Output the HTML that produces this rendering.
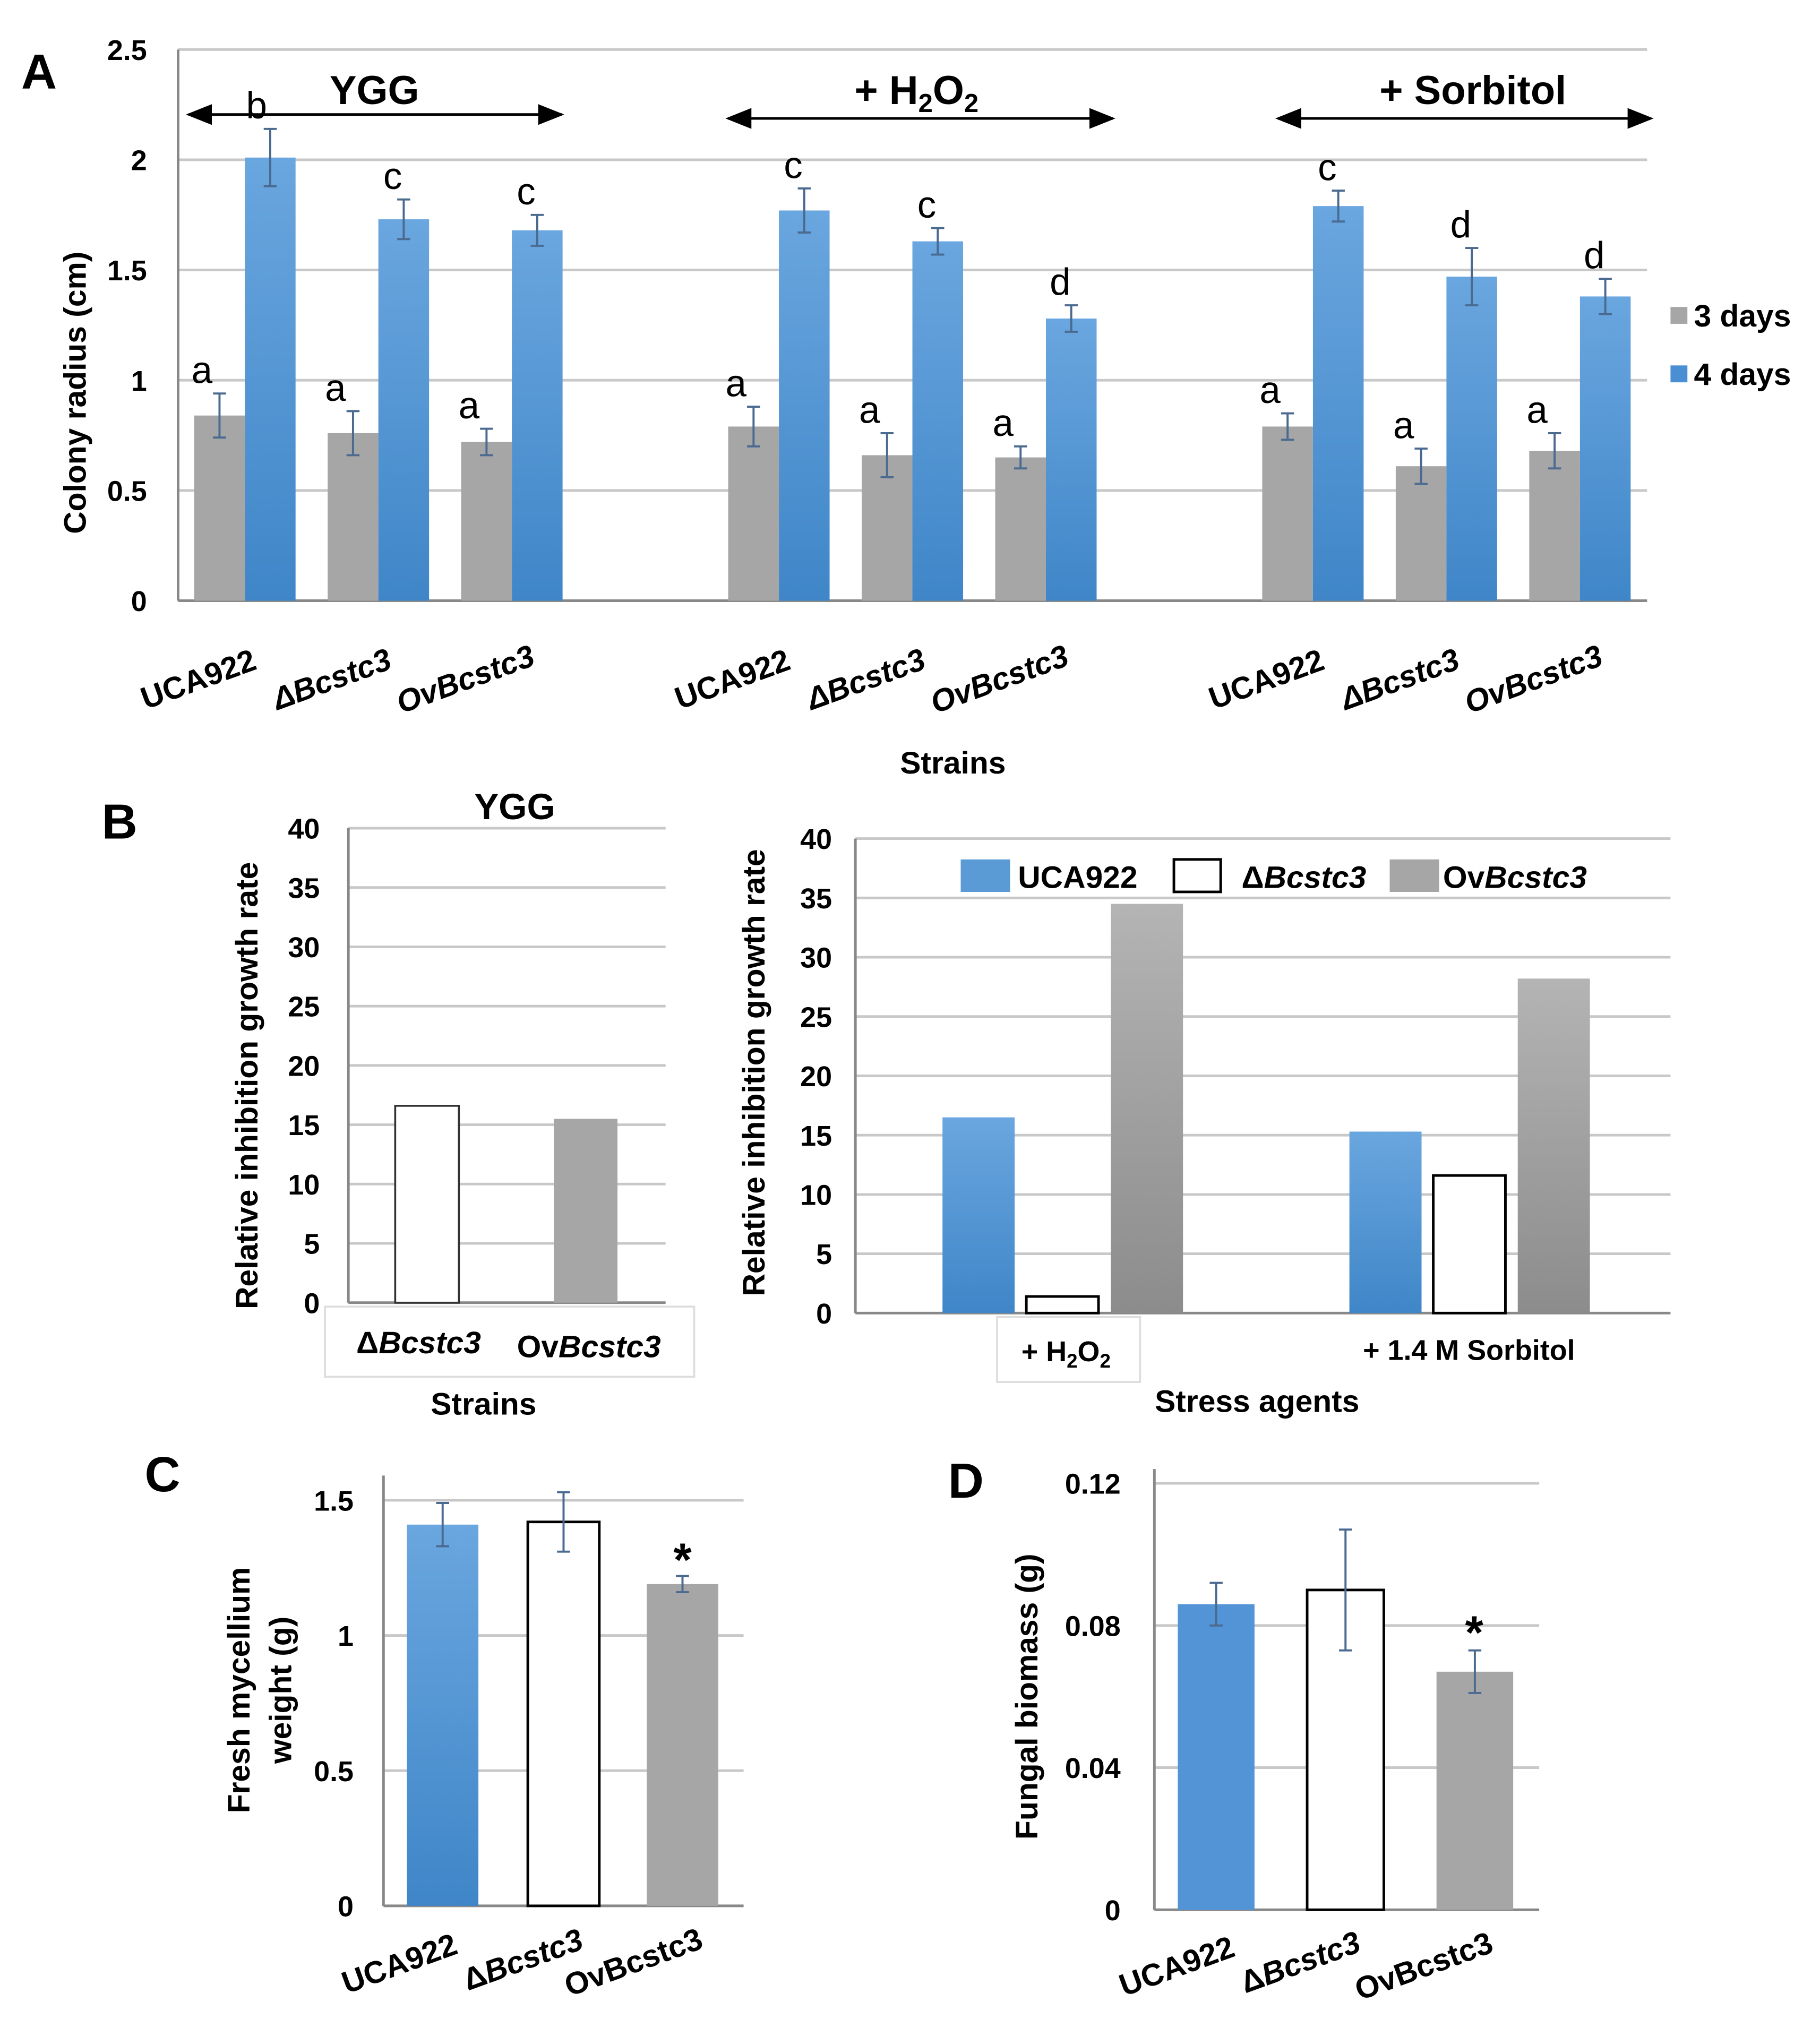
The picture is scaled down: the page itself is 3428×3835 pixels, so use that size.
<!DOCTYPE html>
<html><head><meta charset="utf-8"><style>
html,body{margin:0;padding:0;background:#fff}
svg{display:block}
text{font-family:"Liberation Sans",Arial,sans-serif;font-weight:bold;fill:#000}
</style></head><body>
<svg id="s" width="3428" height="3835" viewBox="0 0 1400 1566" xmlns="http://www.w3.org/2000/svg">
<defs>
<linearGradient id="gb" x1="0" y1="0" x2="0" y2="1"><stop offset="0" stop-color="#6aa6df"/><stop offset="1" stop-color="#3f86c8"/></linearGradient>
<linearGradient id="gg" x1="0" y1="0" x2="0" y2="1"><stop offset="0" stop-color="#b4b4b4"/><stop offset="1" stop-color="#8c8c8c"/></linearGradient>
<marker id="ah" markerWidth="10" markerHeight="10" refX="9" refY="5" orient="auto-start-reverse"><path d="M0,1 L10,5 L0,9 z" fill="#000"/></marker>
</defs>
<g id="root"></g>
</svg>
<script>
// Panel A data
const aGroups=["YGG","+ H2O2","+ Sorbitol"];
const aStrains=["UCA922","ΔBcstc3","OvBcstc3"];
const aDay3=[0.84,0.76,0.72,0.79,0.66,0.65,0.79,0.61,0.68];
const aDay3Err=[0.1,0.1,0.06,0.09,0.1,0.05,0.06,0.08,0.08];
const aDay4=[2.01,1.73,1.68,1.77,1.63,1.28,1.79,1.47,1.38];
const aDay4Err=[0.13,0.09,0.07,0.1,0.06,0.06,0.07,0.13,0.08];
const aDay3Letters=["a","a","a","a","a","a","a","a","a"];
const aDay4Letters=["b","c","c","c","c","d","c","d","d"];
const aTicks=["0","0.5","1","1.5","2","2.5"];
// Panel B left
const bLeftCats=["ΔBcstc3","OvBcstc3"];
const bLeftVals=[16.6,15.5];
const bTicks=["0","5","10","15","20","25","30","35","40"];
// Panel B right
const bRightCats=["+ H2O2","+ 1.4 M Sorbitol"];
const bRightUCA=[16.5,15.3];
const bRightDel=[1.4,11.6];
const bRightOv=[34.5,28.2];
// Panel C
const cVals=[1.41,1.42,1.19];
const cErr=[0.08,0.11,0.03];
const cTicks=["0","0.5","1","1.5"];
// Panel D
const dVals=[0.086,0.090,0.067];
const dErr=[0.006,0.017,0.006];
const dTicks=["0","0.04","0.08","0.12"];

const NS="http://www.w3.org/2000/svg";
const root=document.getElementById('root');
function el(tag,attrs,parent){const e=document.createElementNS(NS,tag);for(const k in attrs)e.setAttribute(k,attrs[k]);(parent||root).appendChild(e);return e;}
function txt(x,y,s,size,anchor,rot){const t=el('text',{x:x,y:y,'font-size':size,'text-anchor':anchor||'middle'});if(rot!==undefined)t.setAttribute('transform','rotate('+rot+' '+x+' '+y+')');t.textContent=s;return t;}
function errbar(x,y1,y2){el('path',{d:`M${x},${y1}V${y2}M${x-5},${y1}H${x+5}M${x-5},${y2}H${x+5}`,stroke:'#4a6a90','stroke-width':1.6,fill:'none'});}

// ---------- Panel A ----------
{
const y0=462,yTop=38,vmax=2.5;const ys=v=>y0-(v/vmax)*(y0-yTop);
const x0=137,x1=1267,slot=102.7;
aTicks.forEach((t,i)=>{const v=parseFloat(t);const y=ys(v);
 if(v>0){const g=el('line',{x1:x0,x2:x1,y1:y,y2:y,stroke:'#c8c8c8','stroke-width':2});}
 const l=txt(113,y+8,t,22,'end');});
el('line',{x1:x0,x2:x0,y1:yTop,y2:y0,stroke:'#888','stroke-width':2});
el('line',{x1:x0,x2:x1,y1:y0,y2:y0,stroke:'#888','stroke-width':2});
aDay3.forEach((v,i)=>{const g=Math.floor(i/3);const s=g*4+(i%3);const cx=x0+(s+0.5)*slot;
 const r=el('rect',{x:cx-39,y:ys(v),width:39,height:y0-ys(v),fill:'#a6a6a6'});
 
 errbar(cx-19.5,ys(v+aDay3Err[i]),ys(v-aDay3Err[i]));
 txt(cx-33,ys(v+aDay3Err[i])-8,aDay3Letters[i],29,'middle').setAttribute('style','font-weight:normal');
 const v4=aDay4[i];
 const b=el('rect',{x:cx,y:ys(v4),width:39,height:y0-ys(v4),fill:'url(#gb)'});
 
 errbar(cx+19.5,ys(v4+aDay4Err[i]),ys(v4-aDay4Err[i]));
 txt(cx+(i==0?9:11),ys(v4+aDay4Err[i])-8,aDay4Letters[i],29,'middle').setAttribute('style','font-weight:normal');
 const lb=txt(cx-33,530,aStrains[i%3],24,'middle',-20);
 lb.setAttribute('font-style',i%3?'italic':'normal');
});
const arr=[[145,432,88],[560,856,91],[983,1270,91]];
arr.forEach(a=>{el('line',{x1:a[0],x2:a[1],y1:a[2],y2:a[2],stroke:'#000','stroke-width':2,'marker-start':'url(#ah)','marker-end':'url(#ah)'});});
txt(288,80,"YGG",31);
const h=txt(705,80,"",31);h.innerHTML='+ H<tspan font-size="20" dy="6">2</tspan><tspan dy="-6">O</tspan><tspan font-size="20" dy="6">2</tspan>';
txt(1133,80,"+ Sorbitol",31);
const ya=txt(66,302,"Colony radius (cm)",24,'middle',-90);
txt(733,595,"Strains",24);
el('rect',{x:1285,y:236,width:13,height:13,fill:'#a6a6a6'});txt(1303,251,"3 days",24,'start');
el('rect',{x:1285,y:281,width:13,height:13,fill:'#4a8fd4'});txt(1303,296,"4 days",24,'start');
txt(30,68,"A",38);
}
// ---------- Panel B left ----------
{
const y0=1002,yTop=637;const ys=v=>y0-(v/40)*(y0-yTop);const x0=268,x1=512;
bTicks.forEach(t=>{const v=+t,y=ys(v);if(v>0)el('line',{x1:x0,x2:x1,y1:y,y2:y,stroke:'#c8c8c8','stroke-width':2});txt(246,y+8,t,22,'end');});
el('line',{x1:x0,x2:x0,y1:yTop,y2:y0,stroke:'#888','stroke-width':2});el('line',{x1:x0,x2:x1,y1:y0,y2:y0,stroke:'#888','stroke-width':2});
const xs=[328.5,450.5];const fills=['#fff','#a6a6a6'];
bLeftVals.forEach((v,i)=>{const r=el('rect',{x:xs[i]-24.5,y:ys(v),width:49,height:y0-ys(v),fill:fills[i],stroke:i?'none':'#333','stroke-width':1.5});});
el('rect',{x:250,y:1005,width:284,height:54,fill:'none',stroke:'#ddd','stroke-width':1.5});
txt(322,1041,"",24).innerHTML='Δ<tspan font-style="italic">Bcstc3</tspan>';
txt(453,1044,"",24).innerHTML='Ov<tspan font-style="italic">Bcstc3</tspan>';
txt(372,1088,"Strains",24);txt(396,630,"YGG",28);
txt(198,835,"Relative inhibition growth rate",24,'middle',-90);
txt(92,645,"B",38);
}
// ---------- Panel B right ----------
{
const y0=1010,yTop=645;const ys=v=>y0-(v/40)*(y0-yTop);const x0=658,x1=1285;
bTicks.forEach(t=>{const v=+t,y=ys(v);if(v>0)el('line',{x1:x0,x2:x1,y1:y,y2:y,stroke:'#c8c8c8','stroke-width':2});txt(640,y+8,t,22,'end');});
el('line',{x1:x0,x2:x0,y1:yTop,y2:y0,stroke:'#888','stroke-width':2});el('line',{x1:x0,x2:x1,y1:y0,y2:y0,stroke:'#888','stroke-width':2});
const gx=[725,1038];
bRightCats.forEach((c,i)=>{
 [[bRightUCA,'url(#gb)',0],[bRightDel,'#fff',64.5],[bRightOv,'url(#gg)',129.5]].forEach(s=>{const v=s[0][i];
  const r=el('rect',{x:gx[i]+s[2],y:ys(v),width:55.5,height:y0-ys(v),fill:s[1],stroke:s[1]=='#fff'?'#000':'none','stroke-width':2});
  });
});
el('rect',{x:767,y:1013,width:110,height:50,fill:'none',stroke:'#ddd','stroke-width':1.5});
txt(820,1047,"",22).innerHTML='+ H<tspan font-size="15" dy="5">2</tspan><tspan dy="-5">O</tspan><tspan font-size="15" dy="5">2</tspan>';
txt(1130,1046,"+ 1.4 M Sorbitol",22);
txt(967,1086,"Stress agents",24);
txt(588,825,"Relative inhibition growth rate",24,'middle',-90);
el('rect',{x:739,y:661,width:38,height:25,fill:'#5b9bd5'});txt(783,683,"UCA922",24,'start');
el('rect',{x:903,y:661,width:36,height:25,fill:'#fff',stroke:'#000','stroke-width':2});txt(955,683,"",24,'start').innerHTML='Δ<tspan font-style="italic">Bcstc3</tspan>';
el('rect',{x:1069,y:661,width:38,height:25,fill:'#a6a6a6'});txt(1110,683,"",24,'start').innerHTML='Ov<tspan font-style="italic">Bcstc3</tspan>';
}
// ---------- Panel C ----------
{
const y0=1466,yTop=1154;const ys=v=>y0-(v/1.5)*(y0-yTop);const x0=295,x1=572;
cTicks.forEach(t=>{const v=+t,y=ys(v);if(v>0)el('line',{x1:x0,x2:x1,y1:y,y2:y,stroke:'#c8c8c8','stroke-width':2});txt(272,y+8,t,22,'end');});
el('line',{x1:x0,x2:x0,y1:1135,y2:y0,stroke:'#888','stroke-width':2});el('line',{x1:x0,x2:x1,y1:y0,y2:y0,stroke:'#888','stroke-width':2});
const xs=[340.5,433.5,525];const f=['url(#gb)','#fff','#a6a6a6'];
cVals.forEach((v,i)=>{const r=el('rect',{x:xs[i]-27.5,y:ys(v),width:55,height:y0-ys(v),fill:f[i],stroke:i==1?'#000':'none','stroke-width':2});errbar(xs[i],ys(v+cErr[i]),ys(v-cErr[i]));});
txt(525,1212,"*",36);
txt(310,1518,"UCA922",24,'middle',-20);txt(405,1515,"",24,'middle',-20).innerHTML='Δ<tspan font-style="italic">Bcstc3</tspan>';txt(490,1517,"OvBcstc3",24,'middle',-20);
txt(192,1300,"Fresh mycellium",24,'middle',-90);txt(224,1300,"weight (g)",24,'middle',-90);
txt(125,1147,"C",38);
}
// ---------- Panel D ----------
{
const y0=1469,yTop=1141;const ys=v=>y0-(v/0.12)*(y0-yTop);const x0=888,x1=1184;
dTicks.forEach(t=>{const v=+t,y=ys(v);if(v>0)el('line',{x1:x0,x2:x1,y1:y,y2:y,stroke:'#c8c8c8','stroke-width':2});txt(862,y+8,t,22,'end');});
el('line',{x1:x0,x2:x0,y1:1130,y2:y0,stroke:'#888','stroke-width':2});el('line',{x1:x0,x2:x1,y1:y0,y2:y0,stroke:'#888','stroke-width':2});
const xs=[935.5,1035,1134.5];const f=['#5294d6','#fff','#a6a6a6'];
dVals.forEach((v,i)=>{const r=el('rect',{x:xs[i]-29.5,y:ys(v),width:59,height:y0-ys(v),fill:f[i],stroke:i==1?'#000':'none','stroke-width':2});errbar(xs[i],ys(v+dErr[i]),ys(v-dErr[i]));});
txt(1134,1268,"*",36);
txt(908,1520,"UCA922",24,'middle',-20);txt(1003,1517,"",24,'middle',-20).innerHTML='Δ<tspan font-style="italic">Bcstc3</tspan>';txt(1098,1520,"OvBcstc3",24,'middle',-20);
txt(798,1305,"Fungal biomass (g)",24,'middle',-90);
txt(743,1152,"D",38);
}
</script>
</body></html>
